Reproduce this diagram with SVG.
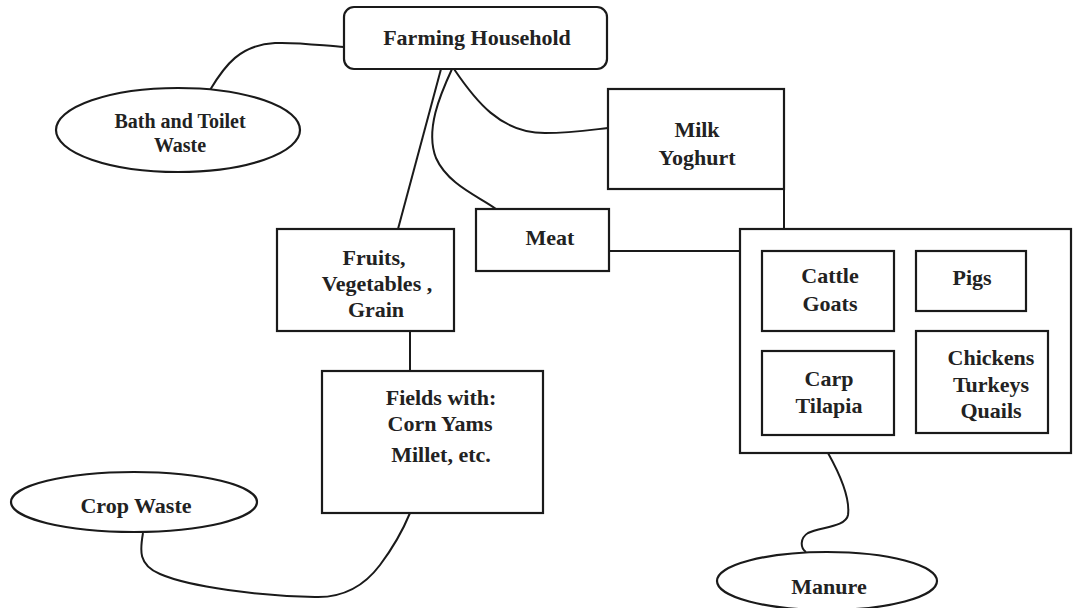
<svg xmlns="http://www.w3.org/2000/svg" width="1073" height="608" viewBox="0 0 1073 608">
<style>
.box{fill:#fff;stroke:#1a1a1a;stroke-width:2.2}
.ln{fill:none;stroke:#1a1a1a;stroke-width:2}
text{font-family:"Liberation Serif","Times New Roman",serif;font-weight:bold;font-size:22px;fill:#222;text-anchor:middle}
.sm{font-size:20px}
</style>
<rect width="1073" height="608" fill="#fff"/>
<g id="connectors">
<path class="ln" d="M210,90 C225,65 240,45 275,43 C300,42 325,46 344,47"/>
<path class="ln" d="M454,69 C475,100 500,133 545,133 C570,133 590,130 608,128"/>
<path class="ln" d="M452,69 C440,95 425,130 436,158 C448,185 480,197 496,209"/>
<path class="ln" d="M441,69 L398,229"/>
<path class="ln" d="M609,251 L740,251"/>
<path class="ln" d="M784,189 L784,229"/>
<path class="ln" d="M410,331 L410,371"/>
<path class="ln" d="M143,533 C140,550 138,565 160,574 C190,587 260,596 315,597 C345,598 365,585 380,565 C395,545 403,530 410,513"/>
<path class="ln" d="M828,453 C842,478 850,500 848,515 C846,527 820,527 808,533 C800,538 800,548 806,552"/>
</g>
<g id="farming-household">
<rect class="box" x="344" y="7" width="263" height="62" rx="10"/>
<text x="477" y="45">Farming Household</text>
</g>
<g id="bath-toilet-waste">
<ellipse class="box" cx="178" cy="130" rx="122" ry="42"/>
<text class="sm" x="180" y="128">Bath and Toilet</text>
<text class="sm" x="180" y="152">Waste</text>
</g>
<g id="milk-yoghurt">
<rect class="box" x="608" y="89" width="176" height="100"/>
<text x="697" y="137">Milk</text>
<text x="697" y="165">Yoghurt</text>
</g>
<g id="meat">
<rect class="box" x="476" y="209" width="133" height="62"/>
<text x="550" y="245">Meat</text>
</g>
<g id="fruits-vegetables-grain">
<rect class="box" x="277" y="229" width="177" height="102"/>
<text x="374" y="265">Fruits,</text>
<text x="377" y="291">Vegetables ,</text>
<text x="376" y="317">Grain</text>
</g>
<g id="fields">
<rect class="box" x="322" y="371" width="221" height="142"/>
<text x="441" y="405">Fields with:</text>
<text x="440" y="431">Corn Yams</text>
<text x="441" y="462">Millet, etc.</text>
</g>
<g id="crop-waste">
<ellipse class="box" cx="134" cy="502" rx="123" ry="30"/>
<text x="136" y="513">Crop Waste</text>
</g>
<g id="livestock">
<rect class="box" x="740" y="229" width="331" height="224"/>
</g>
<g id="cattle-goats">
<rect class="box" x="762" y="251" width="132" height="80"/>
<text x="830" y="283">Cattle</text>
<text x="830" y="311">Goats</text>
</g>
<g id="pigs">
<rect class="box" x="916" y="251" width="110" height="60"/>
<text x="972" y="285">Pigs</text>
</g>
<g id="carp-tilapia">
<rect class="box" x="762" y="351" width="132" height="84"/>
<text x="829" y="386">Carp</text>
<text x="829" y="413">Tilapia</text>
</g>
<g id="chickens-turkeys-quails">
<rect class="box" x="916" y="331" width="132" height="102"/>
<text x="991" y="365">Chickens</text>
<text x="991" y="392">Turkeys</text>
<text x="991" y="418">Quails</text>
</g>
<g id="manure">
<ellipse class="box" cx="827" cy="581" rx="110" ry="29"/>
<text x="829" y="594">Manure</text>
</g>
</svg>
